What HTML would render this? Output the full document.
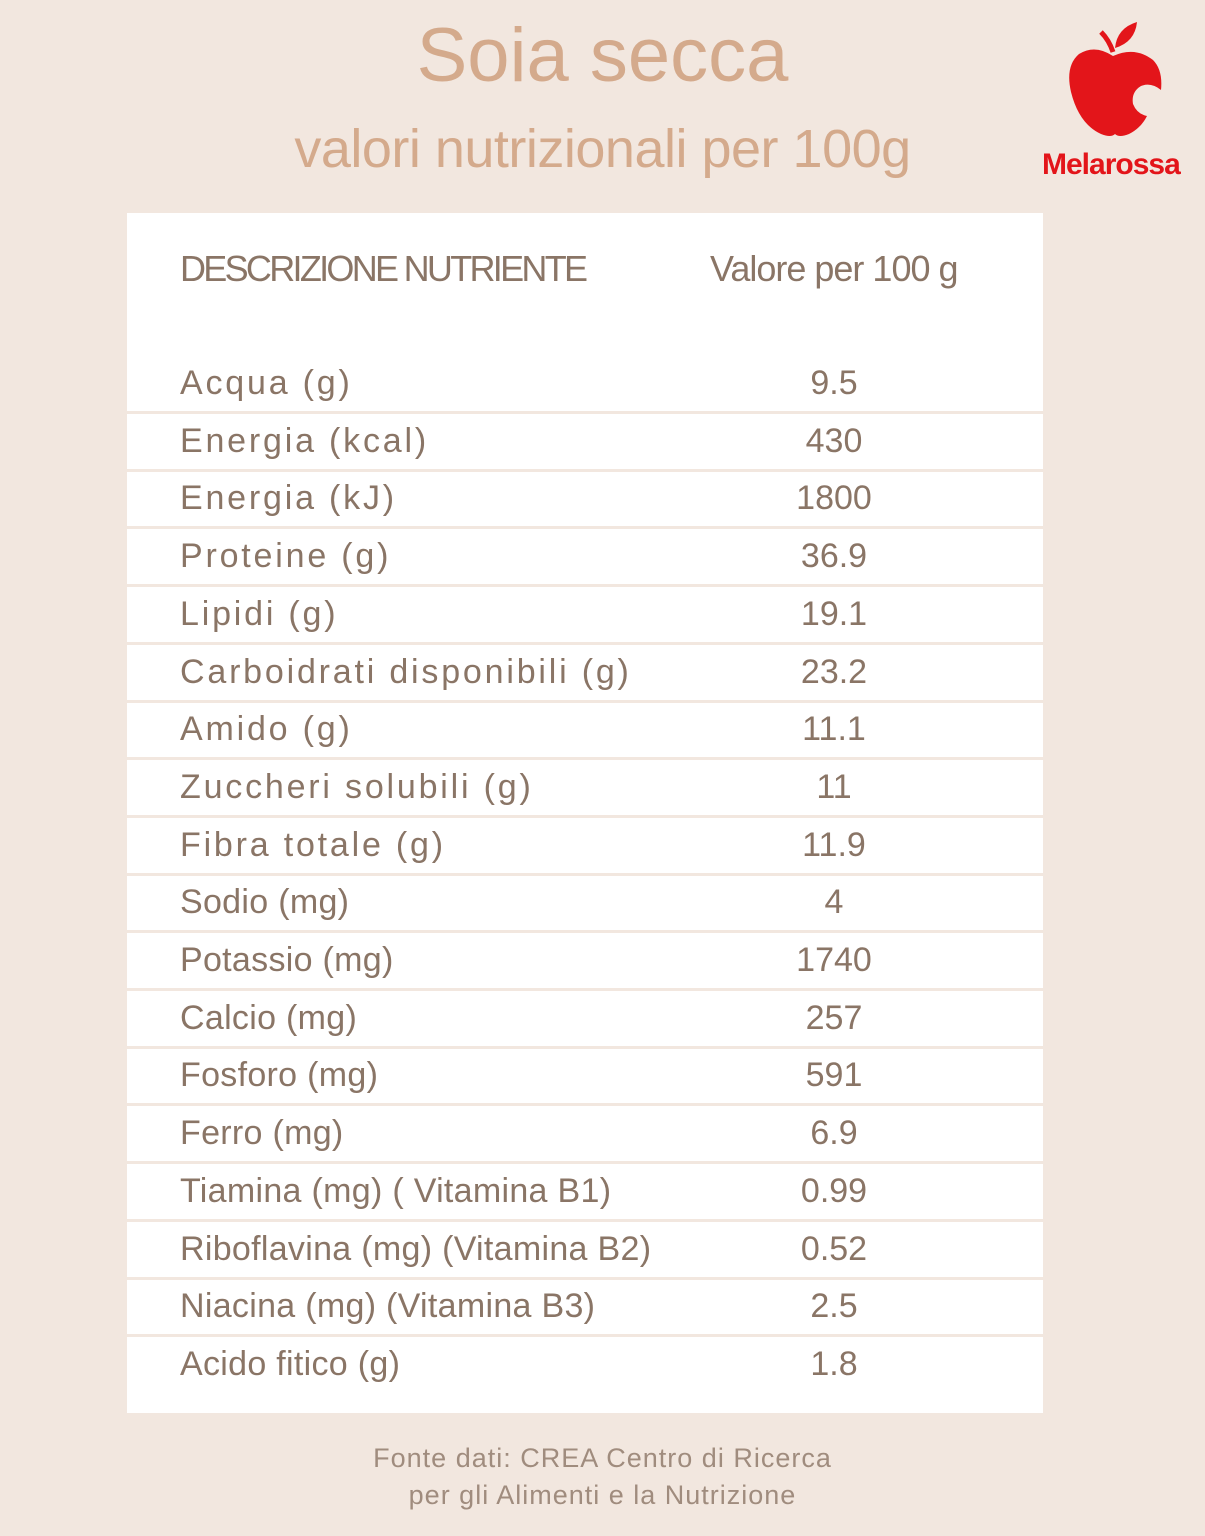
<!DOCTYPE html>
<html><head><meta charset="utf-8"><style>
body{margin:0;width:1205px;height:1536px;background:#f2e7df;position:relative;overflow:hidden;font-family:"Liberation Sans",sans-serif;}
.t{position:absolute;white-space:nowrap;}
.box{position:absolute;left:127px;top:213px;width:916px;height:1200px;background:#fff;}
.sep{position:absolute;left:127px;width:916px;height:3px;background:#f2e7df;}
.l{position:absolute;left:180px;font-size:34px;color:#8a7566;line-height:40px;white-space:nowrap;}
.v{position:absolute;left:734px;width:200px;text-align:center;font-size:34px;color:#8a7566;line-height:40px;}
</style></head><body>
<div class="t" style="left:0;width:1205px;text-align:center;top:12px;font-size:76px;color:#d4aa8c;">Soia secca</div>
<div class="t" style="left:0;width:1205px;text-align:center;top:118px;font-size:54px;color:#d4aa8c;letter-spacing:-0.5px;">valori nutrizionali per 100g</div>
<svg style="position:absolute;left:1065px;top:20px" width="100" height="120" viewBox="0 0 100 120">
<path d="M48 32 Q44 20 36 12" stroke="#e3151a" stroke-width="5" fill="none"/>
<path d="M50 28 Q52 8 72 2 Q70 22 50 28Z" fill="#e3151a"/>
<path d="M48 36 Q30 24 14 34 Q0 46 6 72 Q14 104 36 114 Q46 118 50 114 Q54 118 64 114 Q76 108 82 96 Q72 94 68 84 Q66 72 76 66 Q86 62 96 70 Q98 50 88 40 Q70 26 48 36Z" fill="#e3151a"/>
</svg>
<div class="t" style="left:1042px;top:148px;font-size:30px;font-weight:bold;color:#e3151a;letter-spacing:-1px;">Melarossa</div>
<div class="box"></div>
<div class="t" style="left:180px;top:248px;font-size:36px;color:#8a7566;letter-spacing:-2.7px;">DESCRIZIONE NUTRIENTE</div>
<div class="t" style="left:710px;top:248px;font-size:36px;color:#8a7566;letter-spacing:-1px;">Valore per 100 g</div>
<div id="rows"></div>
<script>
var d=[["Acqua (g)","9.5"],["Energia (kcal)","430"],["Energia (kJ)","1800"],["Proteine (g)","36.9"],["Lipidi (g)","19.1"],["Carboidrati disponibili (g)","23.2"],["Amido (g)","11.1"],["Zuccheri solubili (g)","11"],["Fibra totale (g)","11.9"],["Sodio (mg)","4"],["Potassio (mg)","1740"],["Calcio (mg)","257"],["Fosforo (mg)","591"],["Ferro (mg)","6.9"],["Tiamina (mg) ( Vitamina B1)","0.99"],["Riboflavina (mg) (Vitamina B2)","0.52"],["Niacina (mg) (Vitamina B3)","2.5"],["Acido fitico (g)","1.8"]];
var h="";
for(var i=0;i<d.length;i++){var c=383+57.7*i;var ls=i<9?"2.8px":"0.3px";
h+='<div class="l" style="letter-spacing:'+ls+';top:'+(c-20)+'px">'+d[i][0]+'</div><div class="v" style="top:'+(c-20)+'px">'+d[i][1]+'</div>';
if(i<17)h+='<div class="sep" style="top:'+(c+28)+'px"></div>';}
document.getElementById("rows").innerHTML=h;
</script>
<div class="t" style="left:0;width:1205px;text-align:center;top:1440px;font-size:27px;color:#a08c7e;line-height:37px;letter-spacing:1px;">Fonte dati: CREA Centro di Ricerca<br>per gli Alimenti e la Nutrizione</div>
</body></html>
